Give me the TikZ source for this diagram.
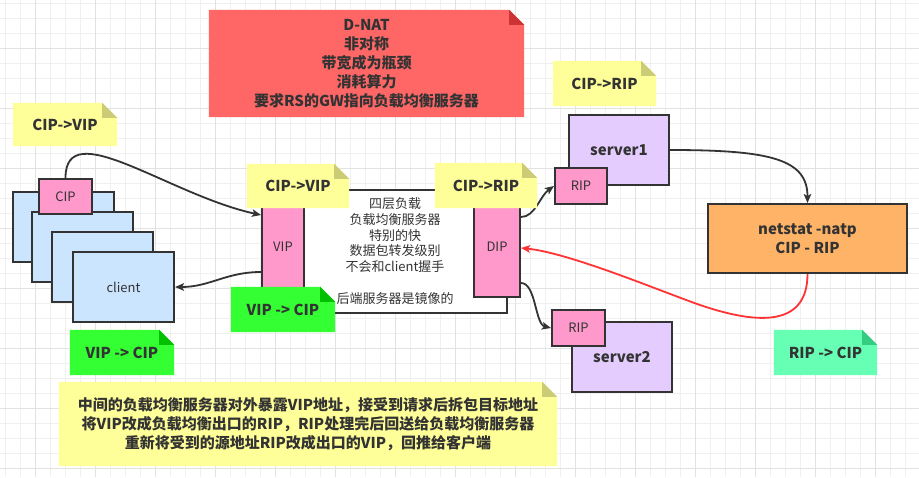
\documentclass[tikz,border=0pt]{standalone}
\usepackage{fontspec}
\setmainfont{Noto Sans CJK SC}
\usetikzlibrary{arrows.meta}

\pgfdeclarelayer{grid}
\pgfdeclarelayer{paper}
\pgfdeclarelayer{notes}
\pgfsetlayers{grid,main,paper,notes}

\definecolor{ink}{HTML}{333333}
\definecolor{gridminor}{HTML}{F0F0F0}
\definecolor{gridmajor}{HTML}{E2E2E2}
\definecolor{clientblue}{HTML}{CCE5FF}
\definecolor{ippink}{HTML}{FF99CC}
\definecolor{serverpurple}{HTML}{E5CCFF}
\definecolor{natorange}{HTML}{FFB366}
\definecolor{alertred}{HTML}{FF3333}
\definecolor{redpaper}{HTML}{FF6666}
\definecolor{redfold}{HTML}{CC3333}
\definecolor{yellowpaper}{HTML}{FFFF99}
\definecolor{yellowfold}{HTML}{CCCC77}
\definecolor{greenpaper}{HTML}{33FF33}
\definecolor{greenfold}{HTML}{00C000}
\definecolor{mintpaper}{HTML}{66FFB3}
\definecolor{mintfold}{HTML}{33CC80}

% paper of a note, with its folded corner
\newcommand{\notepaper}[3]{%
  \begin{pgfonlayer}{paper}
    \fill[#2] (#1.north west) -- ([xshift=-15pt]#1.north east)
      -- ([yshift=-15pt]#1.north east) -- (#1.south east) -- (#1.south west) -- cycle;
    \fill[#3] ([xshift=-15pt]#1.north east) -- ([xshift=-15pt,yshift=-15pt]#1.north east)
      -- ([yshift=-15pt]#1.north east) -- cycle;
  \end{pgfonlayer}}

\begin{document}
\begin{tikzpicture}[x=1pt,y=-1pt,
  box/.style={draw=ink,line width=2pt,text=ink,inner sep=0pt,
    font=\fontsize{13}{16}\selectfont},
  note/.style={text=ink,inner sep=0pt,align=center,
    font=\bfseries\fontsize{15}{19}\selectfont},
  arr/.style={draw=ink,line width=1.8pt,
    -{Stealth[length=9pt,width=7.5pt,inset=2pt]}}]

\useasboundingbox (0,0) rectangle (919,477);

% Background grid
\begin{pgfonlayer}{grid}
  \fill[white] (0,0) rectangle (919,477);
  \foreach \gx in {5,20,...,915} \draw[gridminor,line width=1pt] (\gx,0) -- (\gx,477);
  \foreach \gy in {3.3,18.3,...,476} \draw[gridminor,line width=1pt] (0,\gy) -- (919,\gy);
  \foreach \gx in {35,95,...,875} \draw[gridmajor,line width=1pt] (\gx,0) -- (\gx,477);
  \foreach \gy in {48.3,108.3,...,470} \draw[gridmajor,line width=1pt] (0,\gy) -- (919,\gy);
\end{pgfonlayer}

% Client stack
\node[box,fill=clientblue,minimum width=101pt,minimum height=70pt] (client1) at (63.5,227) {};
\node[box,fill=clientblue,minimum width=101pt,minimum height=70pt] (client2) at (82.5,247) {};
\node[box,fill=clientblue,minimum width=101pt,minimum height=70pt] (client3) at (102.5,267) {};
\node[box,fill=clientblue,minimum width=101pt,minimum height=70pt] (client4) at (123.5,287) {client};
\node[box,fill=ippink,minimum width=53pt,minimum height=35pt] (cip) at (65.5,196.5) {CIP};

% Load balancer
\node[box,fill=white,minimum width=224pt,minimum height=123pt,align=center,
  font=\fontsize{13}{15.8}\selectfont] (lb) at (395,251)
  {四层负载\\负载均衡服务器\\特别的快\\数据包转发级别\\不会和client握手\\[15.8pt]后端服务器是镜像的};
\node[box,fill=ippink,minimum width=42pt,minimum height=100pt] (vip) at (283,247) {VIP};
\node[box,fill=ippink,minimum width=46pt,minimum height=100pt] (dip) at (497,247) {DIP};

% Real servers
\node[box,fill=serverpurple,minimum width=100pt,minimum height=70pt,
  font=\bfseries\fontsize{15}{18}\selectfont] (server1) at (619,150) {server1};
\node[box,fill=ippink,minimum width=52pt,minimum height=36pt] (rip1) at (581,186) {RIP};
\node[box,fill=serverpurple,minimum width=100pt,minimum height=70pt,
  font=\bfseries\fontsize{15}{18}\selectfont] (server2) at (622,357) {server2};
\node[box,fill=ippink,minimum width=53pt,minimum height=36pt] (rip2) at (578.5,328) {RIP};

% Connection table
\node[box,fill=natorange,minimum width=199pt,minimum height=69pt,align=center,
  font=\bfseries\fontsize{15}{19}\selectfont] (netstat) at (807.5,238.5) {netstat -natp\\CIP - RIP};

% Packet flow
\draw[arr] (cip.north) .. controls +(0,-64) and +(-92,-20) .. ([yshift=32pt]vip.west);
\draw[arr] ([yshift=-25pt]vip.west) .. controls +(-35,0) and +(35,0) .. (client4.east);
\draw[arr] ([yshift=30pt]dip.east) .. controls +(14,0) and +(-14,10) .. (rip1.west);
\draw[arr] ([yshift=-36pt]dip.east) .. controls +(15,0) and +(-16,-4) .. (rip2.west);
\draw[arr] (server1.east) .. controls +(100,0) and +(0,-44) .. (netstat.north);
\draw[arr,draw=alertred] (netstat.south) .. controls +(0,57) and (750,322) .. (700,305)
  .. controls (660,291) and (570,253) .. ([yshift=-1pt]dip.east);

% Notes
\begin{pgfonlayer}{notes}
  \node[note,minimum width=315pt,minimum height=107pt] (dnat) at (366.5,63.5)
    {D-NAT\\非对称\\带宽成为瓶颈\\消耗算力\\要求RS的GW指向负载均衡服务器};
  \node[note,minimum width=104pt,minimum height=43pt] (sendNote) at (65,124.5) {CIP->VIP};
  \node[note,minimum width=102pt,minimum height=44pt] (vipNote) at (298,186) {CIP->VIP};
  \node[note,minimum width=102pt,minimum height=45pt] (dipNote) at (486,185.5) {CIP->RIP};
  \node[note,minimum width=103pt,minimum height=45pt] (ripNote) at (604.5,83.5) {CIP->RIP};
  \node[note,minimum width=104pt,minimum height=45pt] (lbBackNote) at (283,309.5) {VIP -> CIP};
  \node[note,minimum width=104pt,minimum height=45pt] (clientBackNote) at (122,352.5) {VIP -> CIP};
  \node[note,minimum width=103pt,minimum height=45pt] (ripBackNote) at (825.5,352.5) {RIP -> CIP};
  \node[note,minimum width=498pt,minimum height=84pt] (summary) at (308,424)
    {中间的负载均衡服务器对外暴露VIP地址，接受到请求后拆包目标地址\\
     将VIP改成负载均衡出口的RIP，RIP处理完后回送给负载均衡服务器\\
     重新将受到的源地址RIP改成出口的VIP，回推给客户端};
\end{pgfonlayer}
\notepaper{dnat}{redpaper}{redfold}
\notepaper{sendNote}{yellowpaper}{yellowfold}
\notepaper{vipNote}{yellowpaper}{yellowfold}
\notepaper{dipNote}{yellowpaper}{yellowfold}
\notepaper{ripNote}{yellowpaper}{yellowfold}
\notepaper{lbBackNote}{greenpaper}{greenfold}
\notepaper{clientBackNote}{greenpaper}{greenfold}
\notepaper{ripBackNote}{mintpaper}{mintfold}
\notepaper{summary}{yellowpaper}{yellowfold}

\end{tikzpicture}
\end{document}
